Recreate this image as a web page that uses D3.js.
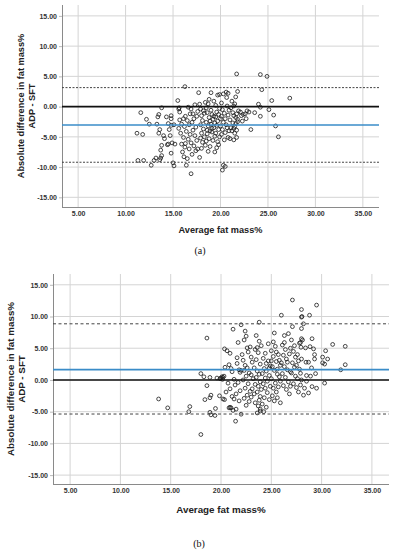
<!DOCTYPE html>
<html>
<head>
<meta charset="utf-8">
<script src="https://cdnjs.cloudflare.com/ajax/libs/d3/7.8.5/d3.min.js"></script>
<style>
  body { margin: 0; background: #fff; }
  svg text { font-family: 'Liberation Sans', Arial, sans-serif; }
</style>
</head>
<body>
<div id="graph"></div>
<script>
// Tick values and labels shared by both panels
const xTicks = [5, 10, 15, 20, 25, 30, 35];
const yTicks = [-15, -10, -5, 0, 5, 10, 15];
const xLabel = 'Average fat mass%';
const yLabel = ['Absolute difference in fat mass%', 'ADP - SFT'];
const captions = ['(a)', '(b)'];

// Panel (a): [average, difference]
const pointsA = [
  [11.2, -4.4], [11.6, -1.0], [11.8, -4.6], [11.3, -8.9], [11.9, -8.9], [12.2, -2.1], [12.5, -2.9],
  [12.7, -9.7], [13.0, -8.9], [13.2, -8.5], [13.3, -2.9], [13.5, -1.3], [13.4, -1.7], [13.6, -3.8],
  [13.5, -4.4], [13.6, -8.8], [13.7, -7.2], [13.8, -8.1], [13.7, -8.5], [13.8, -6.4], [13.8, -0.2],
  [14.0, -4.8], [14.1, -5.3], [14.3, -1.7], [14.5, -2.8], [14.4, -6.3], [14.6, -3.8], [14.8, -2.0],
  [14.8, -1.5], [14.7, -4.8], [14.5, -6.2], [14.8, -7.7], [14.9, -6.0], [15.0, -9.3], [15.1, -9.8],
  [15.2, -6.2], [15.1, -3.0], [14.8, -3.1],
  [15.5, 1.0], [15.6, -0.4], [15.7, -0.9], [15.65, -0.2], [15.7, -2.2], [15.9, -2.9], [16.1, -5.1],
  [16.25, -6.7], [16.0, -7.5], [16.15, -8.3], [16.4, -9.7], [16.9, -11.1], [16.25, 3.3], [16.6, -0.1],
  [16.9, -0.4], [16.3, -1.6], [16.5, -2.3], [16.2, -3.3], [16.7, -3.0], [16.4, -4.1], [16.8, -4.6],
  [16.6, -5.4], [16.9, -6.0], [16.3, -6.1], [16.7, -7.0], [17.0, -7.9], [16.5, -8.6], [17.1, -1.2],
  [17.3, 0.3], [17.2, -2.0], [17.0, -2.6], [17.4, -3.4], [17.1, -3.9], [17.3, -4.8], [17.5, -5.6],
  [17.2, -6.5], [17.4, -7.3], [17.6, -0.8], [17.5, -1.6], [17.7, 2.3], [17.6, -7.0], [17.8, -8.4],
  [16.1, -2.0], [16.8, -1.2], [15.8, -4.4], [15.9, -6.2], [15.6, -3.6],
  [17.8, 0.4], [17.9, -0.4], [18.0, -1.5], [18.1, -2.3], [17.9, -3.0], [18.2, -3.7], [18.0, -4.4],
  [18.3, -5.0], [18.1, -5.9], [18.4, -6.4], [18.0, -6.9], [18.4, 0.7], [18.5, -0.2], [18.6, -1.0],
  [18.7, 0.45], [18.8, -1.8], [18.5, -2.6], [18.7, -3.2], [18.9, -4.0], [18.6, -4.5], [18.8, -5.3],
  [18.5, -5.7], [18.9, -6.6], [18.7, -7.4], [19.0, 2.3], [19.0, -0.6], [19.1, -1.3], [19.2, -2.1],
  [19.0, -2.9], [19.3, -3.5], [19.1, -4.2], [19.4, -4.9], [19.2, -5.6], [19.4, -7.5], [19.3, 0.9],
  [19.5, 0.2], [19.6, -0.9], [19.7, 1.9], [19.9, 2.0], [19.5, -1.7], [19.7, -2.4], [19.6, -3.1],
  [19.8, -3.8], [19.5, -4.4], [19.9, -5.0], [19.7, -5.8], [19.8, -6.3], [19.9, -0.3], [19.8, -1.3],
  [20.0, -2.0], [18.3, -1.1], [18.9, -2.4], [19.3, -1.6], [18.2, -0.7], [17.9, -5.2], [18.6, -3.9],
  [19.1, -3.6], [19.6, -6.8], [18.8, 1.2], [19.4, -2.7],
  [20.1, 0.6], [20.3, 2.1], [20.6, 2.4], [20.8, 2.2], [20.65, 1.5], [20.2, -0.5], [20.4, -1.1],
  [20.1, -1.6], [20.5, -2.0], [20.3, -2.6], [20.0, -3.2], [20.6, -3.0], [20.2, -3.8], [20.5, -4.3],
  [20.1, -4.6], [20.4, -5.5], [20.3, -9.7], [20.5, -9.9], [20.2, -10.5], [20.7, 0.1], [20.9, -0.6],
  [20.8, -1.4], [21.0, -2.2], [20.7, -3.5], [20.9, -4.0], [20.8, -5.1], [21.0, -5.3], [21.1, -0.2],
  [21.2, 0.9], [21.3, -1.0], [21.5, 0.45], [21.4, 0.1], [21.4, -1.5], [21.6, -1.8], [21.8, -2.1],
  [21.6, -2.8], [21.8, -2.5], [21.5, -3.3], [21.4, -3.6], [21.1, -3.5], [21.2, -4.0], [21.5, -4.4],
  [21.7, -5.1], [21.4, -5.5], [21.7, -3.9], [21.9, -0.7], [21.7, -1.2], [21.8, 2.5], [21.7, 5.4],
  [21.6, 1.6], [21.3, -2.7],
  [22.2, -1.5], [22.4, -1.3], [22.1, -0.9], [22.6, -1.2], [22.8, -0.7], [23.0, -0.9], [22.7, -2.0],
  [23.2, -3.8], [23.6, -1.0], [24.0, 0.4], [24.2, -0.1], [24.2, -1.6], [24.2, 5.3], [24.9, 5.0],
  [24.35, 2.8], [25.4, 1.0], [27.3, 1.4], [25.1, -0.5], [25.6, -1.4], [25.8, -3.2], [26.1, -5.0],
  [22.3, -2.4]
];
const meanA = -3.03;
const limitsA = [3.14, -9.2];

// Panel (b): [average, difference]
const pointsB = [
  [13.8, -3.0], [14.7, -4.4], [16.9, -4.2], [16.8, -5.0], [18.0, -8.6], [18.6, 6.6], [18.0, 1.0],
  [18.3, 0.5], [18.9, 0.4], [18.6, -0.9], [19.0, -2.4], [18.9, -2.8], [18.4, -3.1], [18.9, -5.1],
  [19.0, -5.5], [19.4, -5.6], [19.45, -4.5], [19.85, -2.5], [19.6, 0.3], [19.9, 0.2],
  [20.0, 0.3], [20.1, 0.5], [20.2, 0.4], [20.3, 0.6], [20.15, 0.1], [20.2, -3.0], [20.35, -3.1],
  [20.35, 4.9], [20.6, 4.6], [20.9, 4.2], [20.8, 2.4], [20.8, -4.4], [20.9, -4.3], [20.9, -1.4],
  [21.0, -4.4], [21.2, -4.8], [21.2, 8.0], [21.0, 1.8], [21.1, 1.3], [21.3, 0.1], [21.4, -0.8],
  [21.5, -2.2], [21.3, -3.0], [21.5, -4.6], [21.45, -6.5], [21.6, 2.6], [21.7, 5.9], [21.8, 1.6],
  [21.9, 1.2], [21.7, -0.4], [21.9, -1.7], [22.0, -5.4], [22.0, 8.7], [22.0, 1.5], [21.6, 3.5],
  [20.5, -1.9], [20.7, -0.5], [21.1, -2.6], [20.4, 2.0], [21.8, -3.3],
  [22.3, 6.3], [22.4, 7.7], [22.5, 6.9], [22.6, 5.05], [22.9, 5.2], [22.7, 4.4], [22.2, 3.1],
  [22.4, 2.3], [22.6, 1.9], [22.3, 1.5], [22.8, 1.1], [22.5, 0.6], [22.2, 0.0], [22.7, -0.6],
  [22.4, -1.3], [22.9, -1.8], [22.6, -2.4], [22.3, -2.9], [22.8, -3.4], [22.5, -4.0], [23.0, 3.6],
  [23.1, 2.8], [23.3, 1.9], [23.0, 0.8], [23.2, 0.2], [23.4, -0.7], [23.1, -1.4], [23.3, -2.2],
  [23.0, -2.7], [23.4, -3.6], [23.5, 7.0], [23.6, 5.1], [23.8, 9.1], [23.7, 4.3], [23.5, 3.2],
  [23.9, 2.5], [23.6, 1.4], [23.8, 0.9], [23.5, 0.4], [23.9, -0.3], [23.7, -1.0], [23.6, -1.9],
  [23.9, -2.6], [23.8, -3.2], [23.7, -4.1], [23.9, -4.6], [23.6, -5.2], [23.9, -4.9], [23.8, 6.1],
  [23.4, 4.8], [22.1, 4.0],
  [24.25, -5.0], [24.1, -3.8], [24.3, -2.8], [24.0, -1.5], [24.2, -0.6], [24.4, 0.3], [24.1, 1.0],
  [24.3, 1.8], [24.5, 2.6], [24.2, 3.4], [24.4, 4.2], [24.0, 5.4], [24.7, 5.7], [24.6, -0.2],
  [24.8, 0.7], [24.5, 1.4], [24.9, 2.2], [24.7, 3.0], [24.9, -1.0], [24.6, -2.0], [24.8, -3.1],
  [24.5, -4.3], [25.2, 6.0], [25.4, 5.3], [25.3, 7.4], [25.0, 4.6], [25.2, 3.7], [25.5, 2.9],
  [25.1, 2.1], [25.3, 1.5], [25.6, 0.9], [25.0, 0.2], [25.4, -0.5], [25.2, -1.3], [25.5, -1.9],
  [25.1, -2.5], [25.7, 4.0], [25.8, 3.1], [25.9, 2.3], [25.6, 1.7], [25.8, 0.5], [25.9, -0.2],
  [25.7, -1.1], [25.6, -2.8], [25.9, -3.6], [25.3, -3.3], [25.0, 3.0], [24.4, -1.3], [25.5, 4.4],
  [24.8, 1.9],
  [26.0, 10.2], [26.3, 7.0], [26.7, 7.3], [26.1, 5.5], [26.4, 4.8], [26.2, 3.9], [26.5, 3.3],
  [26.0, 2.7], [26.3, 2.1], [26.6, 1.6], [26.1, 1.0], [26.4, 0.4], [26.7, -0.3], [26.2, -0.9],
  [26.5, -1.5], [26.8, -2.2], [26.3, 5.9], [26.9, 5.0], [26.8, 4.1], [26.6, 2.8], [26.9, 1.3],
  [27.1, 12.6], [27.1, 8.4], [27.0, 6.3], [27.2, 4.5], [27.4, 3.6], [27.1, 2.7], [27.3, 2.0],
  [27.0, 1.1], [27.4, 0.6], [27.2, -0.6], [27.5, -1.2], [27.3, 5.4], [27.6, 4.0], [27.7, 3.0],
  [27.5, 2.3], [27.8, 1.7], [27.6, 0.2], [27.9, -0.8], [27.8, 5.8], [27.9, 1.05], [28.0, 8.1],
  [28.0, 9.9], [28.0, 11.1], [28.05, 10.0], [28.0, 6.5], [28.1, 6.3], [27.9, 5.9], [27.95, 5.15],
  [28.0, 3.3], [28.0, 0.0], [26.9, -1.0], [27.7, -1.9],
  [28.2, 8.85], [28.4, 5.05], [28.45, 2.8], [28.7, 2.8], [28.5, -0.2], [28.9, 0.6], [28.5, 0.7],
  [28.3, -1.3], [28.7, -2.05], [28.2, -2.4], [28.8, 10.2], [28.85, 5.25], [29.05, 6.5], [29.2, 4.9],
  [29.3, 4.0], [29.3, 3.3], [29.05, -1.05], [29.5, -1.3], [29.5, 11.8], [29.0, 1.9], [29.4, 1.0],
  [30.1, 3.6], [30.6, 3.3], [30.1, 2.7], [30.3, 2.5], [30.4, 4.6], [30.3, -0.5], [31.1, 5.6],
  [32.35, 5.3], [32.35, 2.4], [31.9, 1.6]
];
const meanB = 1.63;
const limitsB = [8.85, -5.37];

// Whole picture
const w = 397;
const h = 550;

const svg = d3
    .select('#graph')
    .append('svg')
    .attr('width', w)
    .attr('height', h);

drawPanel({
  points: pointsA, mean: meanA, limits: limitsA,
  left: 62, right: 379, top: 5, bottom: 207,
  yDomain: [-16.6, 16.8], dash: '2,1.5',
  labelSize: 9.2, yLabelX: [20.5, 31.5], xLabelY: 230,
  caption: captions[0], captionX: 200, captionY: 250
});

drawPanel({
  points: pointsB, mean: meanB, limits: limitsB,
  left: 53, right: 389, top: 274, bottom: 484,
  yDomain: [-16.4, 16.7], dash: '3,2.5',
  labelSize: 9.8, yLabelX: [10.5, 21.5], xLabelY: 509,
  caption: captions[1], captionX: 199, captionY: 543
});

// Draw one Bland-Altman panel
function drawPanel(p) {
  const xScale = d3
      .scaleLinear()
      .domain([3.3, 36.7])
      .range([p.left, p.right]);

  const yScale = d3
      .scaleLinear()
      .domain(p.yDomain)
      .range([p.bottom, p.top]);

  const g = svg.append('g');

  // Grid lines
  g.selectAll('.vgrid')
      .data(xTicks)
      .enter()
      .append('line')
      .attr('x1', (d) => xScale(d))
      .attr('x2', (d) => xScale(d))
      .attr('y1', p.top)
      .attr('y2', p.bottom)
      .attr('stroke', '#d4d4d4')
      .attr('stroke-width', 1);

  g.selectAll('.hgrid')
      .data(yTicks)
      .enter()
      .append('line')
      .attr('x1', p.left)
      .attr('x2', p.right)
      .attr('y1', (d) => yScale(d))
      .attr('y2', (d) => yScale(d))
      .attr('stroke', '#d4d4d4')
      .attr('stroke-width', 1);

  // Axes
  const fmt = (d) => d.toFixed(2);
  const xAxis = d3.axisBottom(xScale).tickValues(xTicks).tickFormat(fmt)
      .tickSize(0).tickPadding(4);
  const yAxis = d3.axisLeft(yScale).tickValues(yTicks).tickFormat(fmt)
      .tickSize(3).tickPadding(2);

  const gx = g.append('g')
      .attr('transform', 'translate(0,' + p.bottom + ')')
      .call(xAxis);
  const gy = g.append('g')
      .attr('transform', 'translate(' + p.left + ',0)')
      .call(yAxis);

  [gx, gy].forEach(function(ax) {
    ax.select('.domain').attr('stroke', '#8a8a8a').attr('stroke-width', 1);
    ax.selectAll('.tick line').attr('stroke', '#bbb');
    ax.selectAll('.tick text')
        .attr('fill', '#333')
        .style('font-size', '7px')
        .style('font-weight', 'bold');
  });
  gx.select('.domain').attr('d', 'M' + p.left + ',0.5H' + p.right);
  gy.select('.domain').attr('d', 'M0.5,' + p.top + 'V' + p.bottom);

  // Points
  g.selectAll('circle')
      .data(p.points)
      .enter()
      .append('circle')
      .attr('cx', (d) => xScale(d[0]))
      .attr('cy', (d) => yScale(d[1]))
      .attr('r', 1.9)
      .attr('fill', 'none')
      .attr('stroke', '#1a1a1a')
      .attr('stroke-width', 0.8);

  // Limits of agreement
  g.selectAll('.limit')
      .data(p.limits)
      .enter()
      .append('line')
      .attr('x1', p.left)
      .attr('x2', p.right)
      .attr('y1', (d) => yScale(d))
      .attr('y2', (d) => yScale(d))
      .attr('stroke', '#444')
      .attr('stroke-width', 1)
      .attr('stroke-dasharray', p.dash);

  // Zero line
  g.append('line')
      .attr('x1', p.left)
      .attr('x2', p.right)
      .attr('y1', yScale(0))
      .attr('y2', yScale(0))
      .attr('stroke', '#111')
      .attr('stroke-width', 1.6);

  // Mean difference
  g.append('line')
      .attr('x1', p.left)
      .attr('x2', p.right)
      .attr('y1', yScale(p.mean))
      .attr('y2', yScale(p.mean))
      .attr('stroke', '#3a8cc8')
      .attr('stroke-width', 1.6);

  // Axis titles
  const midY = (p.top + p.bottom) / 2;
  yLabel.forEach(function(txt, i) {
    g.append('text')
        .attr('transform', 'translate(' + p.yLabelX[i] + ',' + midY + ') rotate(-90)')
        .attr('text-anchor', 'middle')
        .attr('dominant-baseline', 'central')
        .attr('fill', '#222')
        .style('font-size', p.labelSize + 'px')
        .style('font-weight', 'bold')
        .text(txt);
  });

  g.append('text')
      .attr('x', (p.left + p.right) / 2)
      .attr('y', p.xLabelY)
      .attr('text-anchor', 'middle')
      .attr('dominant-baseline', 'central')
      .attr('fill', '#222')
      .style('font-size', p.labelSize + 'px')
      .style('font-weight', 'bold')
      .text(xLabel);

  // Panel caption
  g.append('text')
      .attr('x', p.captionX)
      .attr('y', p.captionY)
      .attr('text-anchor', 'middle')
      .attr('dominant-baseline', 'central')
      .attr('fill', '#111')
      .style('font-family', "'Liberation Serif', 'Times New Roman', serif")
      .style('font-size', '10px')
      .text(p.caption);
}
</script>
</body>
</html>
